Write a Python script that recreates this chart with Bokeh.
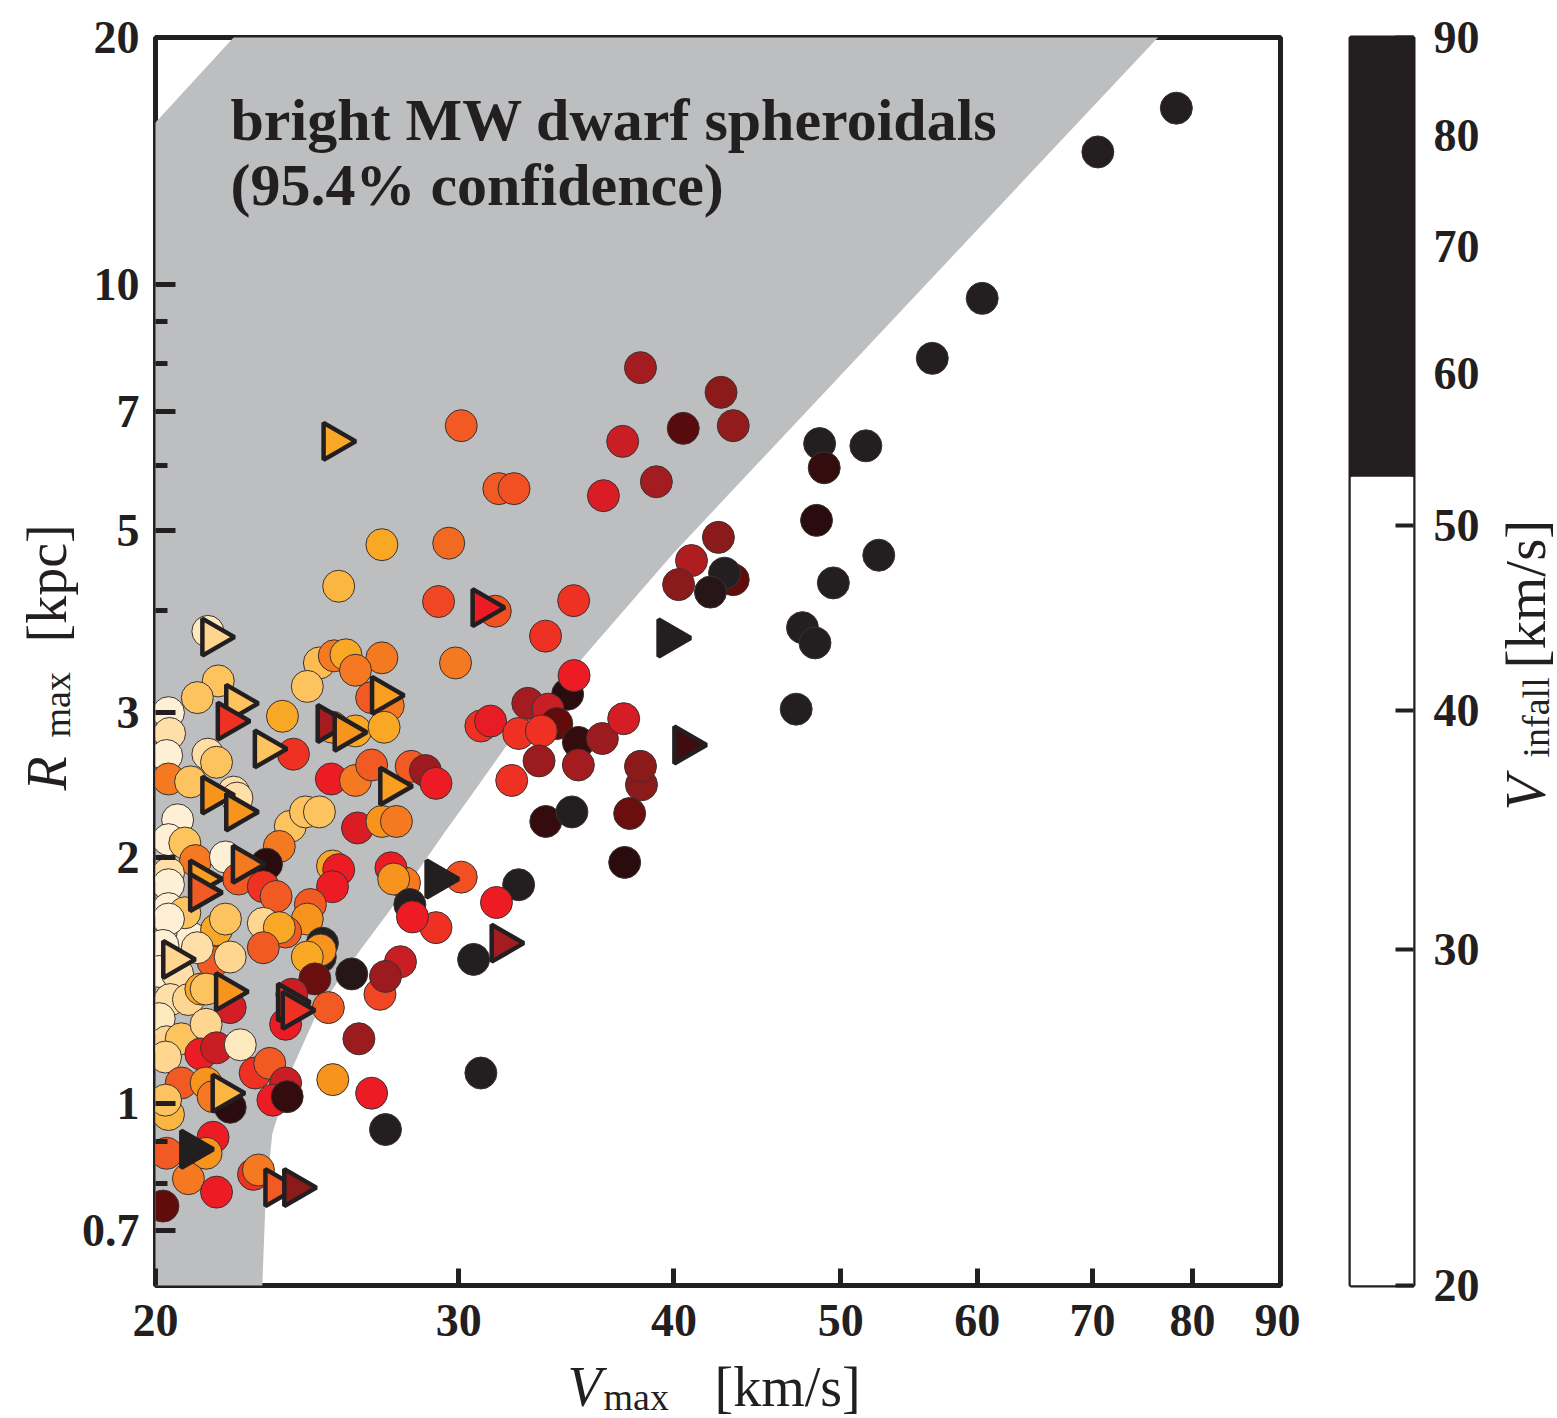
import numpy as np
from bokeh.plotting import figure
from bokeh.models import ColumnDataSource, FixedTicker, LinearColorMapper, Label, Range1d
from bokeh.layouts import row, column
from bokeh.embed import file_html
from bokeh.resources import INLINE

# ---------------- data ----------------
# subhaloes (circles): Vmax [km/s], Rmax [kpc], Vinfall [km/s]
A_v = [78.3, 70.5, 60.4, 56.5, 42.6, 43.3, 40.5, 48.6, 51.7, 48.9, 48.4, 42.45, 40.95, 43.3, 42.8, 40.25, 42.0, 52.6, 49.5, 47.5, 48.3, 47.1]
A_r = [16.4, 14.5, 9.61, 8.12, 7.38, 6.72, 6.67, 6.39, 6.35, 5.97, 5.15, 4.91, 4.60, 4.36, 4.44, 4.30, 4.21, 4.67, 4.32, 3.81, 3.65, 3.03]
A_i = [88, 80, 70, 66, 47, 46, 50, 60, 62, 51.5, 52, 47, 43, 49.5, 58, 47, 52.5, 60, 57, 58, 57, 56]

B_v = [38.25, 30.1, 37.35, 31.65, 32.3, 36.4, 39.07, 29.6, 29.2, 31.5, 34.98, 33.69, 29.87, 34.7, 35.0, 32.9, 33.8, 34.2, 30.9, 31.3, 32.5, 33.5, 35.2, 36.35, 37.4, 33.4, 35.2, 32.2, 38.3, 38.25, 33.7, 34.9, 37.7, 37.45, 30.1, 32.5, 31.55, 29.1, 30.6]
B_r = [7.91, 6.72, 6.43, 5.63, 5.63, 5.52, 5.74, 4.83, 4.10, 3.99, 4.11, 3.72, 3.45, 3.16, 3.33, 3.08, 3.03, 2.91, 2.89, 2.93, 2.83, 2.85, 2.76, 2.79, 2.95, 2.62, 2.59, 2.48, 2.45, 2.58, 2.21, 2.27, 2.26, 1.97, 1.89, 1.85, 1.76, 1.64, 1.50]
B_i = [44, 34, 41, 34, 34.5, 39.5, 44, 33, 35, 34.5, 36, 36, 32, 52, 38, 44, 41, 49.5, 36, 38.5, 36, 36, 51.5, 45, 40, 45, 44, 36, 47, 47, 51.5, 56, 49, 52, 34.5, 56, 38, 36, 56]

C_v = [27.07, 25.55, 21.45, 24.9, 25.4, 25.8, 27.07, 26.13, 24.5, 21.75, 21.15, 20.35, 20.38, 20.3, 20.35, 20.96, 21.45, 21.7, 24.05, 23.7, 26.7, 27.3, 26.13, 27.15, 25.34, 25.3, 26.13, 26.7, 28.15, 28.69, 29.1]
C_r = [4.81, 4.28, 3.77, 3.45, 3.52, 3.53, 3.50, 3.38, 3.23, 3.28, 3.13, 3.00, 2.83, 2.66, 2.49, 2.47, 2.67, 2.61, 2.67, 2.97, 3.13, 3.06, 2.85, 2.88, 2.88, 2.49, 2.48, 2.59, 2.58, 2.55, 2.46]
C_i = [28, 27, 22, 26.5, 32, 28, 32, 32, 26, 26, 26, 21, 23, 21, 32, 26, 23, 26, 36, 28, 34, 32, 28, 28, 28, 38, 32, 34, 34, 45, 38]

D_v = [22.2, 22.3, 23.95, 24.44, 24.9, 23.6, 23.2, 20.6, 20.35, 20.8, 21.1, 21.96, 20.35, 20.35, 22.35, 23.1, 23.5, 26.2, 27.07, 27.6, 25.34, 25.55, 25.34, 24.6, 24.5, 23.1, 23.8, 23.6, 23.1, 24.93, 25.0, 24.93, 24.5, 27.9, 27.4, 27.5, 28.1, 28.2, 26.0, 27.75, 27.0, 27.2]
D_r = [2.40, 2.36, 2.18, 2.27, 2.27, 2.06, 1.96, 2.22, 2.10, 2.08, 1.98, 2.00, 1.91, 1.85, 1.88, 1.84, 1.79, 2.17, 2.21, 2.21, 1.95, 1.93, 1.84, 1.75, 1.68, 1.66, 1.62, 1.64, 1.55, 1.51, 1.57, 1.54, 1.51, 1.86, 1.94, 1.88, 1.75, 1.69, 1.44, 1.49, 1.36, 1.43]
D_i = [23, 23, 26, 26, 26, 32, 52, 21, 21, 26, 32, 21, 23, 21, 34, 36, 34, 39.5, 30, 32, 28, 38, 38, 34, 30, 24, 34, 28, 34, 56, 58, 30, 28, 32, 38, 30, 56, 38, 52.5, 41, 35, 45]

E_v = [20.35, 20.6, 21.0, 21.7, 21.96, 20.8, 20.35, 21.6, 21.15, 22.1, 20.2, 20.1, 20.6, 20.4, 20.9, 21.25, 21.4, 22.1, 20.1, 20.3, 20.7, 21.4, 21.25, 21.7, 22.4, 20.27, 20.7, 21.4, 21.6, 22.1, 20.35, 20.27, 22.85, 23.3, 23.8, 23.4, 23.85, 21.6, 21.4, 20.3, 20.9, 21.7, 20.2, 22.8, 22.95, 24.75, 24.0, 23.8, 25.2, 26.25, 25.35, 26.7, 27.2, 30.9]
E_r = [1.73, 1.63, 1.59, 1.63, 1.68, 1.71, 1.68, 1.49, 1.55, 1.51, 1.56, 1.45, 1.44, 1.34, 1.34, 1.38, 1.38, 1.31, 1.27, 1.19, 1.20, 1.25, 1.15, 1.17, 1.18, 1.14, 1.06, 1.06, 1.02, 0.99, 0.97, 1.01, 1.09, 1.12, 1.06, 1.01, 1.02, 0.91, 0.87, 0.87, 0.81, 0.78, 0.75, 0.82, 0.83, 1.42, 1.36, 1.25, 1.31, 1.20, 1.07, 1.03, 0.93, 1.09]
E_i = [21, 24, 21, 28, 26, 26, 21, 34, 23, 24, 21, 21, 23, 23, 24, 28, 26, 40, 22, 24, 26, 24, 38, 41, 22, 24, 34, 30, 32, 52, 27, 26, 36, 34, 41, 38, 51.5, 38, 30, 34, 32, 38, 49.5, 36, 32, 49, 41, 38, 34, 45, 30, 38, 56, 56]

# triangles
T_v = [25.4, 21.6, 22.3, 22.05, 23.17, 27.1, 25.2, 25.78, 27.4, 21.6, 22.3, 22.5, 21.25, 21.25, 20.5, 22.0, 21.9, 21.0, 23.5, 24.1, 23.9, 24.05, 31.0, 40.6, 39.75, 29.15, 31.8]
T_r = [6.43, 3.71, 3.08, 2.93, 2.71, 3.15, 2.91, 2.84, 2.44, 2.38, 2.27, 1.96, 1.88, 1.81, 1.50, 1.37, 1.03, 0.88, 0.79, 0.79, 1.33, 1.30, 4.03, 2.74, 3.70, 1.88, 1.57]
T_i = [28, 24, 26, 36, 26, 29, 44, 30, 29, 30, 30, 32, 29, 34, 24, 30, 27, 58, 34, 47, 36, 36, 38, 51, 58, 58, 44]

# 95.4% confidence region of bright MW dSphs
band_vmax = [19.5, 19.5, 20.0, 22.2, 23.0, 79.2, 76.4, 39.95, 35.7, 31.92, 30.34, 29.42, 27.63, 26.30, 25.50, 24.86, 24.02, 23.38, 23.17, 23.07, 23.05]
band_rmax = [0.55, 14.86, 15.75, 20.0, 21.7, 21.7, 20.0, 4.69, 3.57, 2.72, 2.34, 2.14, 1.77, 1.54, 1.406, 1.30, 1.106, 0.919, 0.762, 0.60, 0.55]

x_ticks = [20, 30, 40, 50, 60, 70, 80, 90]
y_ticks = [0.7, 1, 2, 3, 5, 7, 10, 20]
y_minor = [0.8, 0.9, 4, 6, 8, 9]
cbar_ticks = [20, 30, 40, 50, 60, 70, 80, 90]
cbar_edges = [20, 53, 90]
cbar_colors = ["#ffffff", "#231f20"]

# ---------------- styling ----------------
INK = "#231f20"
SERIF = "Liberation Serif"

stops = [(20, "#fff4e2"), (21, "#fef0d5"), (23.5, "#fedb9c"), (26, "#fdc35e"), (28, "#f9a825"),
         (30, "#f7941d"), (32, "#f47920"), (34, "#f15a22"), (36, "#ef3124"), (38, "#ed1c24"),
         (41, "#c81e24"), (44, "#a31c20"), (47, "#8b1a1a"), (49.5, "#620b0b"), (52, "#2a0c0e"),
         (53, "#231f20")]


def _rgb(h):
    return np.array([int(h[i:i + 2], 16) for i in (1, 3, 5)], dtype=float)


palette = []
for v in np.linspace(20, 53, 331):
    for (v0, c0), (v1, c1) in zip(stops[:-1], stops[1:]):
        if v0 <= v <= v1:
            t = (v - v0) / (v1 - v0)
            c = _rgb(c0) * (1 - t) + _rgb(c1) * t
            palette.append("#%02x%02x%02x" % tuple(int(round(x)) for x in c))
            break
mapper = LinearColorMapper(palette=palette, low=20, high=53, high_color=INK, low_color=stops[0][1])

# page geometry (pixels)
W, H = 1557, 1418
YLAB_W = 78
XL, XR, YT, YB = 155, 1280, 37, 1285
P_H = 1355
CL, CR = 1350, 1413
P2_R = 72
X0, X1, Y0, Y1 = 20.0, 90.0, 0.6, 20.0
DESC = 0.216  # font descent (em) used to place text by its baseline


def fx(px):
    return X0 * 10 ** ((px - XL) / (XR - XL) * np.log10(X1 / X0))


def fy(py):
    return Y1 * 10 ** (-(py - YT) / (YB - YT) * np.log10(Y1 / Y0))


p = figure(width=XR + 20 - YLAB_W, height=P_H, x_axis_type="log", y_axis_type="log",
           x_range=Range1d(X0, X1), y_range=Range1d(Y0, Y1),
           output_backend="svg", toolbar_location=None,
           min_border_left=XL - YLAB_W, min_border_right=20, min_border_top=YT, min_border_bottom=P_H - YB)
p.background_fill_color = "white"
p.border_fill_color = "white"
p.grid.visible = False
p.outline_line_color = INK
p.outline_line_width = 5

p.patch(band_vmax, band_rmax, fill_color="#bcbec0", line_color=None)

csrc = ColumnDataSource(dict(x=A_v + B_v + C_v + D_v + E_v,
                             y=A_r + B_r + C_r + D_r + E_r,
                             vinf=A_i + B_i + C_i + D_i + E_i))
p.scatter("x", "y", source=csrc, marker="circle", size=32,
          fill_color={"field": "vinf", "transform": mapper}, line_color="#3a3232", line_width=1)
tsrc = ColumnDataSource(dict(x=T_v, y=T_r, vinf=T_i))
p.scatter("x", "y", source=tsrc, marker="triangle", size=37, angle=-np.pi / 2,
          fill_color={"field": "vinf", "transform": mapper}, line_color=INK, line_width=4.5)

for ax in (p.xaxis[0], p.yaxis[0]):
    ax.axis_line_color = None
    ax.major_tick_out = 0
    ax.minor_tick_out = 0
    ax.major_tick_line_color = INK
    ax.minor_tick_line_color = INK
    ax.major_tick_line_width = 5
    ax.minor_tick_line_width = 5
    ax.major_label_text_font = SERIF
    ax.major_label_text_font_style = "bold"
    ax.major_label_text_font_size = "46px"
    ax.major_label_text_color = INK

p.xaxis.ticker = FixedTicker(ticks=x_ticks, minor_ticks=[])
p.xaxis.major_label_overrides = {t: str(t) for t in x_ticks}
p.xaxis.major_tick_in = 17
p.xaxis.major_label_standoff = 19

p.yaxis.ticker = FixedTicker(ticks=y_ticks, minor_ticks=y_minor)
p.yaxis.major_label_overrides = {t: ("%g" % t) for t in y_ticks}
p.yaxis.major_tick_in = 20
p.yaxis.minor_tick_in = 12
p.yaxis.major_label_standoff = 16

# annotation text inside the frame (placed by baseline)
for txt, base in (("bright MW dwarf spheroidals", 140), ("(95.4% confidence)", 205)):
    p.add_layout(Label(x=fx(230), y=fy(base + DESC * 60), text=txt, text_font=SERIF,
                       text_baseline="bottom", text_font_style="bold", text_font_size="60px",
                       text_color=INK))


def text_strip(w, h, xr, yr, bl=0, br=0, bt=0, bb=0):
    f = figure(width=w, height=h, x_range=Range1d(*xr), y_range=Range1d(*yr),
               output_backend="svg", toolbar_location=None, x_axis_location=None, y_axis_location=None,
               min_border_left=bl, min_border_right=br, min_border_top=bt, min_border_bottom=bb)
    f.outline_line_color = None
    f.background_fill_color = "white"
    f.border_fill_color = "white"
    for g in f.grid:
        g.visible = False
    return f


def put(f, x, base, size, text, style="normal", rotated=False):
    d = DESC * size
    if rotated:
        x, y, ang = x + d, base, np.pi / 2
    else:
        x, y, ang = x, base + d, 0.0
    f.add_layout(Label(x=x, y=y, text=text, text_font=SERIF, text_font_style=style,
                       text_font_size="%dpx" % size, text_color=INK, angle=ang,
                       text_baseline="bottom", text_align="left"))


# y-axis label strip: page x 0..YLAB_W, same borders as the plots in the row
ylab = text_strip(YLAB_W, P_H, (0, YLAB_W), (YB, YT), bt=YT, bb=P_H - YB)
put(ylab, 65, 790, 56, "R", "italic", rotated=True)
put(ylab, 69, 737, 38, "max", rotated=True)
put(ylab, 65, 642, 56, "[kpc]", rotated=True)

# x-axis label strip below the plot: frame aligned to the plot frame (page x XL..XR)
xlab = text_strip(XR + 20 - YLAB_W, H - P_H, (XL, XR), (H, P_H), bl=XL - YLAB_W, br=20)
put(xlab, 567, 1405.5, 56, "V", "italic")
put(xlab, 603, 1409, 38, "max")
put(xlab, 714, 1405.5, 56, "[km/s]")

# ---------------- colour bar ----------------
p2 = figure(width=(CR - CL) + 50 + P2_R, height=P_H, y_axis_type="log", x_range=Range1d(0, 1),
            y_range=Range1d(20, 90), y_axis_location="right", output_backend="svg", toolbar_location=None,
            min_border_left=50, min_border_right=P2_R, min_border_top=YT, min_border_bottom=P_H - YB)
p2.grid.visible = False
p2.xaxis.visible = False
p2.border_fill_color = "white"
p2.outline_line_color = INK
p2.outline_line_width = 4
p2.quad(left=0, right=1, bottom=cbar_edges[:-1], top=cbar_edges[1:], fill_color=cbar_colors, line_color=None)
ya = p2.yaxis[0]
ya.ticker = FixedTicker(ticks=cbar_ticks, minor_ticks=[])
ya.major_label_overrides = {t: str(t) for t in cbar_ticks}
ya.axis_line_color = None
ya.major_tick_in = 18
ya.major_tick_out = 0
ya.major_tick_line_width = 4
ya.major_tick_line_color = INK
ya.major_label_standoff = 20
ya.major_label_text_font = SERIF
ya.major_label_text_font_style = "bold"
ya.major_label_text_font_size = "46px"
ya.major_label_text_color = INK

# colour-bar label strip: page x c_x0..W, same borders as the plots in the row
c_x0 = CR + P2_R
clab = text_strip(W - c_x0, P_H, (c_x0, W), (YB, YT), bt=YT, bb=P_H - YB)
put(clab, 1544, 810, 57, "V", "italic", rotated=True)
put(clab, 1548, 757, 38, "infall", rotated=True)
put(clab, 1544, 668, 57, "[km/s]", rotated=True)

layout = row(ylab, column(p, xlab), p2, clab)
open("out.html", "w").write(file_html(layout, INLINE))
